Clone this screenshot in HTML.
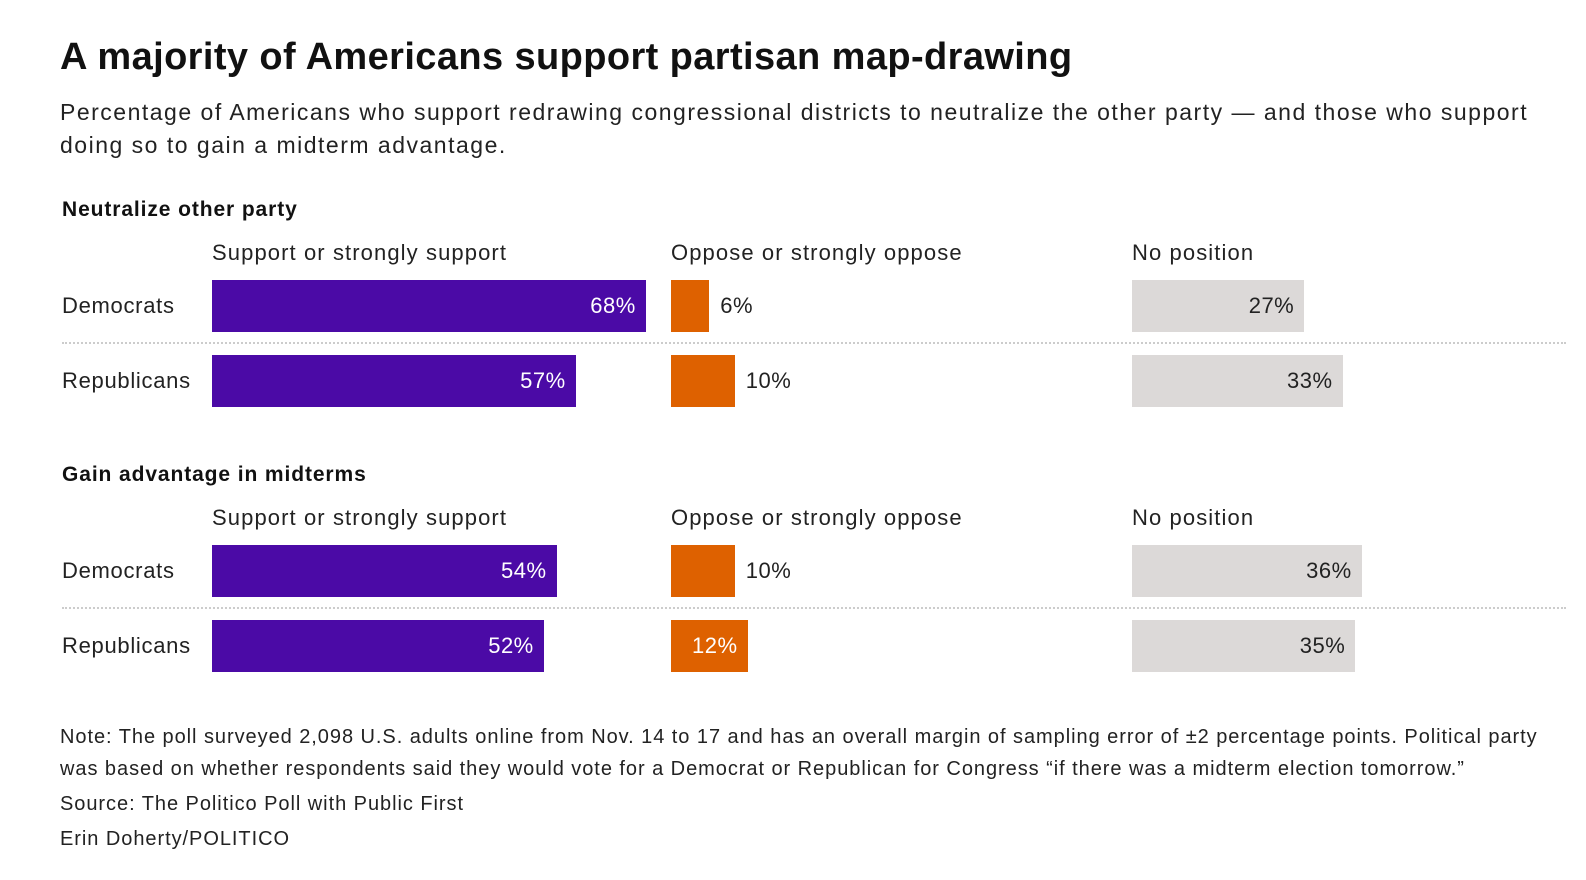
<!DOCTYPE html>
<html><head><meta charset="utf-8"><style>
body{margin:0;width:1586px;height:880px;background:#fff;font-family:"Liberation Sans",sans-serif;color:#111;position:relative;overflow:hidden}
.t{position:absolute;white-space:nowrap}
#title{left:60px;top:36px;font-size:38px;font-weight:bold;letter-spacing:0.4px}
.sub{left:60px;font-size:23px;color:#222;letter-spacing:1.5px}
.sec{left:62px;font-size:21px;font-weight:bold;letter-spacing:0.9px}
.col{font-size:22px;color:#222;letter-spacing:1.1px}
.row{left:62px;font-size:22px;color:#222;letter-spacing:0.7px}
.bar{position:absolute;height:52px}
.lab{position:absolute;font-size:22px;line-height:52px;white-space:nowrap;letter-spacing:0.5px}
.sep{position:absolute;left:62px;width:1504px;border-top:2px dotted #ccc;height:0}
.note{left:60px;font-size:20px;color:#222;letter-spacing:0.95px}
</style></head><body>
<div class="t" id="title">A majority of Americans support partisan map-drawing</div>
<div class="t sub" style="top:99px">Percentage of Americans who support redrawing congressional districts to neutralize the other party — and those who support</div>
<div class="t sub" style="top:132px">doing so to gain a midterm advantage.</div>
<div id="chart"></div>
<div class="t note" style="top:726px">Note: The poll surveyed 2,098 U.S. adults online from Nov. 14 to 17 and has an overall margin of sampling error of ±2 percentage points. Political party</div>
<div class="t note" style="top:758px">was based on whether respondents said they would vote for a Democrat or Republican for Congress “if there was a midterm election tomorrow.”</div>
<div class="t note" style="top:793px">Source: The Politico Poll with Public First</div>
<div class="t note" style="top:828px">Erin Doherty/POLITICO</div>
<script>
const sections=["Neutralize other party","Gain advantage in midterms"];
const parties=["Democrats","Republicans"];
const columns=["Support or strongly support","Oppose or strongly oppose","No position"];
const supportVals=[[68,57],[54,52]];
const opposeVals=[[6,10],[10,12]];
const noposVals=[[27,33],[36,35]];
const colX=[212,671,1132];
const colColor=["#4b0aa6","#de6100","#dcd9d8"];
const pxPer=6.38;
const xs=v=>v*pxPer;
const c=document.getElementById('chart');
function add(cls,style,text,name){const d=document.createElement('div');d.className=cls;d.style.cssText=style;if(text!=null)d.textContent=text;


c.appendChild(d);return d;}
const secTop=[198,463];
const allVals=[supportVals,opposeVals,noposVals];
sections.forEach((s,si)=>{
  const top=secTop[si];
  add('t sec','top:'+top+'px',s,'section-title-'+(si+1));
  columns.forEach((cn,ci)=>add('t col','left:'+colX[ci]+'px;top:'+(top+42)+'px',cn,'column-header-'+(si+1)+'-'+(ci+1)));
  add('sep','top:'+(top+144)+'px',null,'row-separator-'+(si+1));
  parties.forEach((p,pi)=>{
    const y=top+82+pi*75;
    add('t row','top:'+y+'px;line-height:52px',p,'row-label-'+p.toLowerCase()+'-'+(si+1));
    allVals.forEach((arr,ci)=>{
      const v=arr[si][pi];const w=xs(v);
      add('bar','left:'+colX[ci]+'px;top:'+y+'px;width:'+w+'px;background:'+colColor[ci],null,'bar-'+(si+1)+'-'+p.toLowerCase()+'-'+(ci+1));
      const inside=w>=70;
      const col=inside&&ci<2?'#fff':'#222';
      let st='top:'+y+'px;color:'+col+';';
      if(inside){st+='left:'+colX[ci]+'px;width:'+(w-10)+'px;text-align:right;';}
      else st+='left:'+(colX[ci]+w+11)+'px;';
      add('lab',st,v+'%','value-label-'+(si+1)+'-'+p.toLowerCase()+'-'+(ci+1));
    });
  });
});
</script>
</body></html>
